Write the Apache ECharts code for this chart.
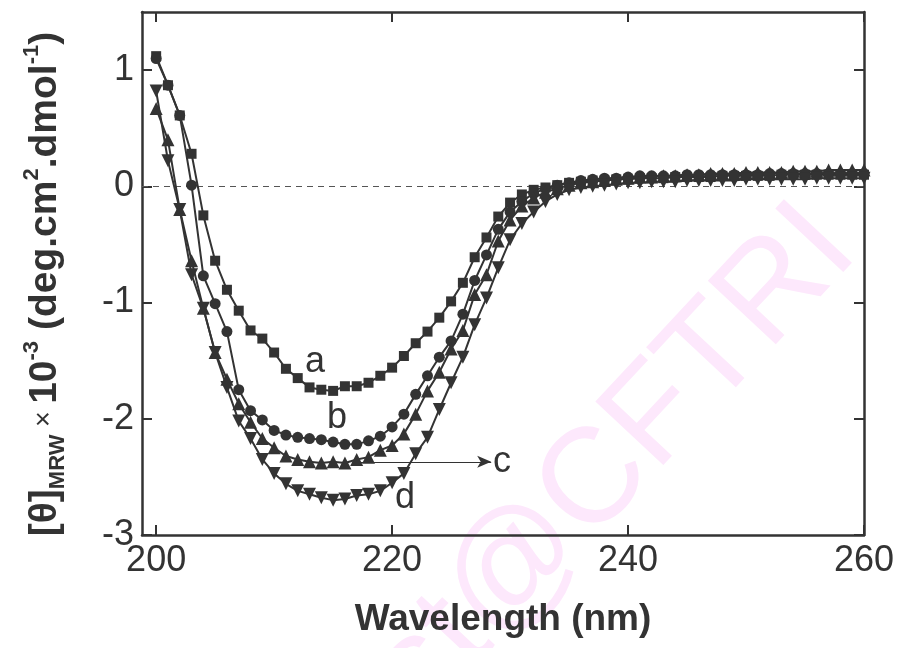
<!DOCTYPE HTML>
<html>
<head>
    <meta charset="utf-8">
    <title>CD spectra</title>
    <script src="https://cdn.jsdelivr.net/npm/echarts@6/dist/echarts.min.js"></script>
    <style>
        html, body { margin: 0; padding: 0; background: #fff; }
    </style>
</head>
<body>
<div id="main" style="width: 899px;height:648px;"></div>
<script type="text/javascript">
    // wavelength (nm)
    var wavelength = [200,201,202,203,204,205,206,207,208,209,210,211,212,213,214,215,216,217,218,219,
        220,221,222,223,224,225,226,227,228,229,230,231,232,233,234,235,236,237,238,239,
        240,241,242,243,244,245,246,247,248,249,250,251,252,253,254,255,256,257,258,259,260];

    // [θ]MRW x 10^-3
    var seriesA = [1.12,0.87,0.61,0.28,-0.25,-0.64,-0.89,-1.07,-1.24,-1.31,-1.43,-1.57,-1.65,-1.73,-1.75,-1.76,-1.72,-1.72,-1.69,-1.63,
        -1.56,-1.46,-1.35,-1.25,-1.13,-0.99,-0.83,-0.61,-0.44,-0.26,-0.14,-0.07,-0.03,-0.01,0.01,0.03,0.04,0.05,0.05,0.06,
        0.06,0.07,0.07,0.07,0.08,0.08,0.08,0.08,0.09,0.09,0.09,0.09,0.09,0.10,0.10,0.10,0.10,0.10,0.10,0.10,0.10];
    var seriesB = [1.10,0.87,0.61,0.01,-0.77,-1.01,-1.25,-1.75,-1.93,-2.01,-2.10,-2.14,-2.16,-2.17,-2.18,-2.20,-2.22,-2.22,-2.19,-2.15,
        -2.07,-1.96,-1.79,-1.63,-1.47,-1.33,-1.10,-0.81,-0.59,-0.37,-0.22,-0.13,-0.06,-0.02,0.01,0.03,0.05,0.06,0.07,0.07,
        0.08,0.09,0.09,0.09,0.09,0.10,0.10,0.10,0.10,0.10,0.10,0.10,0.11,0.11,0.11,0.11,0.11,0.11,0.11,0.11,0.11];
    var seriesC = [0.67,0.40,-0.20,-0.64,-1.05,-1.43,-1.66,-1.87,-2.03,-2.17,-2.25,-2.32,-2.35,-2.37,-2.38,-2.37,-2.38,-2.35,-2.33,-2.27,
        -2.23,-2.13,-1.96,-1.76,-1.60,-1.40,-1.24,-0.93,-0.76,-0.47,-0.29,-0.17,-0.10,-0.05,-0.02,0.01,0.03,0.04,0.05,0.06,
        0.07,0.08,0.08,0.09,0.09,0.10,0.10,0.11,0.11,0.11,0.12,0.12,0.12,0.12,0.13,0.13,0.13,0.14,0.14,0.14,0.14];
    var seriesD = [0.82,0.22,-0.20,-0.76,-1.05,-1.43,-1.73,-2.02,-2.17,-2.35,-2.47,-2.56,-2.62,-2.65,-2.68,-2.70,-2.69,-2.66,-2.65,-2.62,
        -2.55,-2.47,-2.30,-2.16,-1.92,-1.69,-1.47,-1.19,-0.96,-0.70,-0.46,-0.32,-0.22,-0.13,-0.07,-0.03,-0.01,0.00,0.01,0.02,
        0.03,0.03,0.04,0.04,0.04,0.05,0.05,0.05,0.05,0.05,0.06,0.06,0.06,0.06,0.06,0.06,0.07,0.07,0.07,0.07,0.07];

    var xTicks = [200, 220, 240, 260];
    var yTicks = [-3, -2, -1, 0, 1];
    var arrowC = [[216.6, -2.37], [228.4, -2.37]];

    var ink = '#333';
    var font = 'Liberation Sans';

    function pairs(ys) {
        var out = [];
        for (var i = 0; i < wavelength.length; i++) {
            out.push([wavelength[i], ys[i]]);
        }
        return out;
    }

    function curve(name, ys, symbol, size, rotate) {
        return {
            name: name,
            type: 'line',
            data: pairs(ys),
            symbol: symbol,
            symbolSize: size,
            symbolRotate: rotate || 0,
            showSymbol: true,
            itemStyle: { color: ink },
            lineStyle: { color: ink, width: 2 }
        };
    }

    var myChart = echarts.init(document.getElementById('main'));

    var frameLine = { show: true, onZero: false, lineStyle: { color: ink, width: 2.5 } };

    var sA = curve('a', seriesA, 'rect', 10);
    sA.markLine = {
        silent: true,
        symbol: 'none',
        label: { show: false },
        lineStyle: { color: '#555', width: 1, type: [6, 5] },
        data: [{ yAxis: 0 }],
        z: 1
    };
    var sC = curve('c', seriesC, 'triangle', 13);
    sC.markLine = {
        silent: true,
        symbol: ['none', 'arrow'],
        symbolSize: [9, 14],
        label: { show: false },
        lineStyle: { color: ink, width: 1, type: 'solid' },
        data: [[{ coord: arrowC[0] }, { coord: arrowC[1] }]]
    };

    var option = {
        animation: false,
        backgroundColor: '#fff',
        grid: { left: 142, right: 35, top: 12, bottom: 113 },
        xAxis: [
            {
                type: 'value',
                min: 198.8,
                max: 260,
                axisLine: frameLine,
                splitLine: { show: false },
                axisTick: { inside: true, length: 10, lineStyle: { color: ink, width: 2 }, customValues: xTicks },
                axisLabel: { customValues: xTicks, color: ink, fontFamily: font, fontSize: 36, margin: 8 },
                name: 'Wavelength (nm)',
                nameLocation: 'middle',
                nameGap: 66,
                nameTextStyle: { color: ink, fontFamily: font, fontSize: 37, fontWeight: 'bold' }
            },
            {
                type: 'value',
                position: 'top',
                min: 198.8,
                max: 260,
                axisLine: frameLine,
                splitLine: { show: false },
                axisTick: { inside: true, length: 10, lineStyle: { color: ink, width: 2 }, customValues: xTicks },
                axisLabel: { show: false }
            }
        ],
        yAxis: [
            {
                type: 'value',
                min: -3,
                max: 1.5,
                axisLine: frameLine,
                splitLine: { show: false },
                axisTick: { inside: true, length: 10, lineStyle: { color: ink, width: 2 }, customValues: yTicks },
                axisLabel: { customValues: yTicks, color: ink, fontFamily: font, fontSize: 36, margin: 8 }
            },
            {
                type: 'value',
                position: 'right',
                min: -3,
                max: 1.5,
                axisLine: frameLine,
                splitLine: { show: false },
                axisTick: { inside: true, length: 10, lineStyle: { color: ink, width: 2 }, customValues: yTicks },
                axisLabel: { show: false }
            }
        ],
        graphic: [
            {
                // watermark
                type: 'text',
                z: -10,
                silent: true,
                x: 615,
                y: 462,
                rotation: 0.82,
                style: {
                    text: 'st@CFTRI',
                    fill: '#fde8fc',
                    font: 'normal 135px "Liberation Sans"',
                    align: 'center',
                    verticalAlign: 'middle'
                }
            },
            {
                type: 'text',
                x: 45,
                y: 284,
                rotation: Math.PI / 2,
                style: {
                    text: '{b|[θ]}{sub|MRW}{n| × }{b|10}{sup|-3}{b| (deg.cm}{sup|2}{b|.dmol}{sup|-1}{b|)}',
                    align: 'center',
                    verticalAlign: 'middle',
                    fill: ink,
                    rich: {
                        b: { fontFamily: font, fontSize: 39, fontWeight: 'bold', fill: ink, lineHeight: 48 },
                        n: { fontFamily: font, fontSize: 27, fill: ink, lineHeight: 48 },
                        sub: { fontFamily: font, fontSize: 22, fontWeight: 'bold', fill: ink, verticalAlign: 'bottom', lineHeight: 48 },
                        sup: { fontFamily: font, fontSize: 22, fontWeight: 'bold', fill: ink, verticalAlign: 'top', lineHeight: 48 }
                    }
                }
            },
            { type: 'text', x: 315, y: 362, style: { text: 'a', font: '36px "Liberation Sans"', fill: ink, align: 'center', verticalAlign: 'middle' } },
            { type: 'text', x: 337, y: 418, style: { text: 'b', font: '36px "Liberation Sans"', fill: ink, align: 'center', verticalAlign: 'middle' } },
            { type: 'text', x: 502, y: 462, style: { text: 'c', font: '36px "Liberation Sans"', fill: ink, align: 'center', verticalAlign: 'middle' } },
            { type: 'text', x: 405, y: 498, style: { text: 'd', font: '36px "Liberation Sans"', fill: ink, align: 'center', verticalAlign: 'middle' } }
        ],
        series: [
            sA,
            curve('b', seriesB, 'circle', 11),
            sC,
            curve('d', seriesD, 'triangle', 13, 180)
        ]
    };

    myChart.setOption(option);
</script>
</body>
</html>
